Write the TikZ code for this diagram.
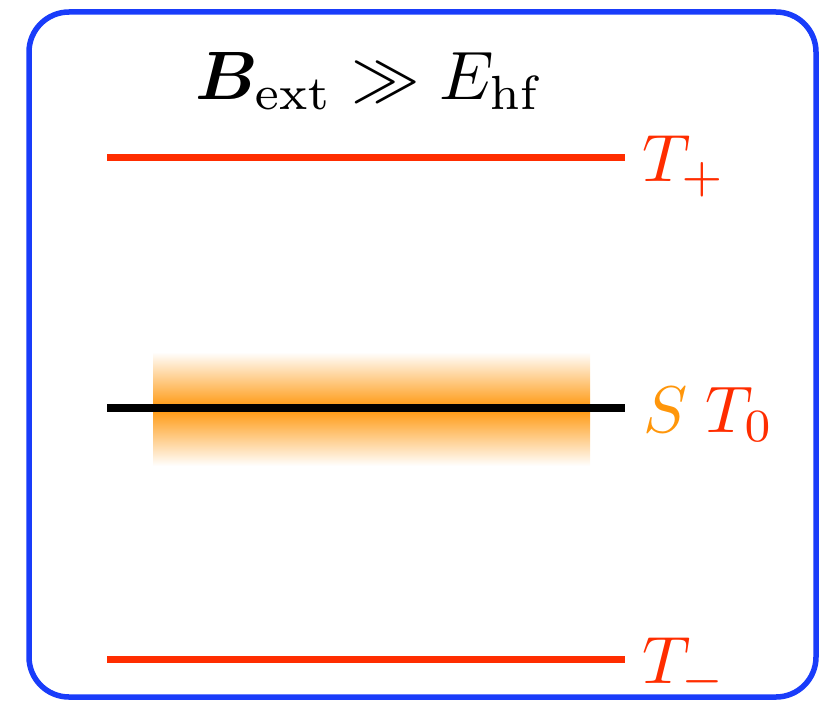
\documentclass[tikz,border=0pt]{standalone}
\usepackage{bm}
\definecolor{frameblue}{RGB}{25,60,250}
\definecolor{lvlred}{RGB}{255,45,0}
\definecolor{lvlorange}{RGB}{255,150,10}
\tikzset{
  level/.style={line width=7pt},
  lbl/.style={anchor=base west, inner sep=0pt},
}
\begin{document}
\begin{tikzpicture}[x=1pt,y=-1pt]
\useasboundingbox (0,0) rectangle (821,701);
\draw[frameblue, line width=5.5pt, rounded corners=40pt] (29,12) rectangle (816,697);
% gradient box
\shade[top color=white, bottom color=lvlorange, shading=axis] (153,352) rectangle (590,409);
\shade[top color=lvlorange, bottom color=white, shading=axis] (153,408) rectangle (590,466);
% levels
\coordinate (tpL) at (107,157); \coordinate (tpR) at (625,157);
\coordinate (t0L) at (107,408); \coordinate (t0R) at (625,408);
\coordinate (tmL) at (107,659); \coordinate (tmR) at (625,659);
\draw[level, lvlred] (tpL) -- (tpR);
\draw[level, black, line width=8pt] (t0L) -- (t0R);
\draw[level, lvlred] (tmL) -- (tmR);
% labels
\node[lbl, text=lvlred] (lp) at (642,181) {\scalebox{6.7}{$T_+$}};
\node[lbl] (l0) at (643,432) {\scalebox{6.6}{$\color{lvlorange}S\;\color{lvlred}T_0$}};
\node[lbl, text=lvlred] (lm) at (642,683) {\scalebox{6.7}{$T_-$}};
\node[lbl] (title) at (195,99) {\scalebox{6.85}{$\bm{B}_{\mathrm{ext}}\gg E_{\mathrm{hf}}$}};
\end{tikzpicture}
\end{document}
